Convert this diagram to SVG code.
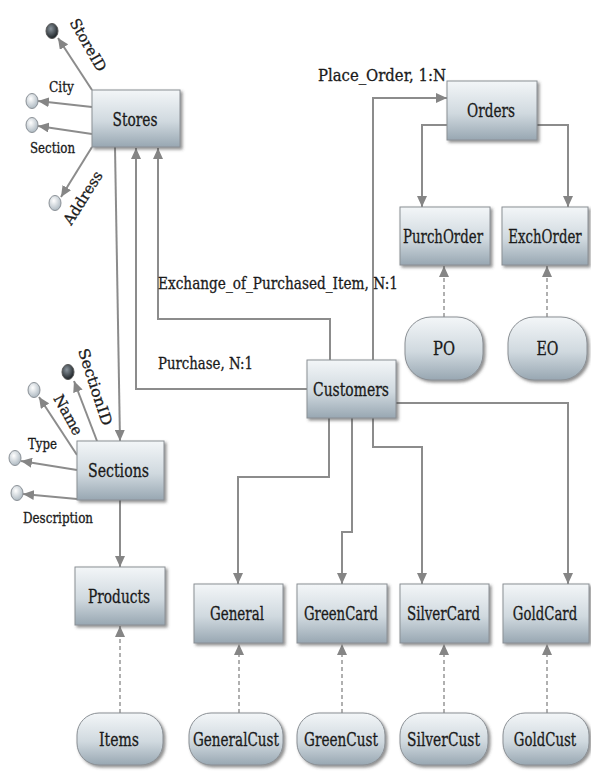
<svg xmlns="http://www.w3.org/2000/svg" width="591" height="774" viewBox="0 0 591 774">
<style>
.box{fill:url(#gBox);stroke:#8a8f94;stroke-width:1;filter:url(#sh)}
text{font-family:"DejaVu Serif","Liberation Serif",serif;fill:#1a1a1a;stroke:#1a1a1a;stroke-width:0.3}
.lbl{font-size:18px;text-anchor:middle}
.txt{font-size:16px}
.att{font-size:14px}
.ratt{font-size:15px;text-anchor:middle}
.c{fill:none;stroke:#8c8c8c;stroke-width:2;marker-end:url(#ah)}
.d{fill:none;stroke:#b0b0b0;stroke-width:2;stroke-dasharray:4 3;marker-end:url(#ah)}
.a{fill:none;stroke:#8c8c8c;stroke-width:2;marker-end:url(#ah)}
.lc{fill:url(#gLight);stroke:#8a9096;stroke-width:1}
.dc{fill:url(#gDark);stroke:#555;stroke-width:1}
</style>
<defs>
<linearGradient id="gBox" x1="0" y1="0" x2="0" y2="1">
<stop offset="0" stop-color="#f3f6f8"/>
<stop offset="0.55" stop-color="#d0d9df"/>
<stop offset="1" stop-color="#98a7b2"/>
</linearGradient>
<radialGradient id="gLight" cx="0.4" cy="0.35" r="0.7">
<stop offset="0" stop-color="#ffffff"/>
<stop offset="1" stop-color="#a9b5be"/>
</radialGradient>
<radialGradient id="gDark" cx="0.4" cy="0.35" r="0.7">
<stop offset="0" stop-color="#8a949c"/>
<stop offset="1" stop-color="#151a1e"/>
</radialGradient>
<filter id="sh" x="-10%" y="-10%" width="130%" height="130%">
<feDropShadow dx="2" dy="2" stdDeviation="1.5" flood-color="#444" flood-opacity="0.6"/>
</filter>
<marker id="ah" markerUnits="userSpaceOnUse" markerWidth="11" markerHeight="10" refX="11" refY="5" orient="auto">
<path d="M0,0 L11,5 L0,10 z" fill="#858585"/>
</marker>
</defs>

<g id="connectors">
<path class="c" d="M307,389 H136 V148"/>
<path class="c" d="M330,360 V319 H158 V148"/>
<path class="c" d="M115,147 L120,441"/>
<path class="c" d="M373,360 V98 H447"/>
<path class="c" d="M447,125 H422 V207"/>
<path class="c" d="M537,125 H568 V207"/>
<path class="c" d="M329,418 V477 H238 V584"/>
<path class="c" d="M352,418 V532 H342 V584"/>
<path class="c" d="M373,418 V447 H422 V584"/>
<path class="c" d="M396,403 H568 V584"/>
<path class="c" d="M120,500 V567"/>
<path class="d" d="M120,713 V626"/>
<path class="d" d="M239,713 V644"/>
<path class="d" d="M342,713 V644"/>
<path class="d" d="M444,713 V644"/>
<path class="d" d="M547,713 V644"/>
<path class="d" d="M444,317 V266"/>
<path class="d" d="M547,317 V266"/>
<path class="a" d="M92,90 L58,38"/>
<path class="a" d="M92,107 L38,101"/>
<path class="a" d="M92,134 L38,126"/>
<path class="a" d="M92,147 L61,197"/>
<path class="a" d="M97,441 L74,381"/>
<path class="a" d="M77,455 L39,397"/>
<path class="a" d="M77,470 L21,461"/>
<path class="a" d="M77,499 L23,494"/>
<text class="txt" x="318" y="81" textLength="128" lengthAdjust="spacingAndGlyphs">Place_Order, 1:N</text>
<text class="txt" x="158" y="289" textLength="240" lengthAdjust="spacingAndGlyphs">Exchange_of_Purchased_Item, N:1</text>
<text class="txt" x="158" y="369" textLength="95" lengthAdjust="spacingAndGlyphs">Purchase, N:1</text>
</g>

<g id="attributes">
<ellipse class="dc" cx="52" cy="31" rx="6" ry="7.5"/>
<ellipse class="lc" cx="32" cy="101" rx="6" ry="7.5"/>
<ellipse class="lc" cx="32" cy="125" rx="6" ry="7.5"/>
<ellipse class="lc" cx="55" cy="203" rx="6" ry="7.5"/>
<ellipse class="dc" cx="68" cy="372" rx="6" ry="7.5"/>
<ellipse class="lc" cx="34" cy="390" rx="6" ry="7.5"/>
<ellipse class="lc" cx="15" cy="458" rx="6" ry="7.5"/>
<ellipse class="lc" cx="17" cy="493" rx="6" ry="7.5"/>
<text class="ratt" transform="translate(88,45) rotate(60.5)" x="0" y="5" textLength="58" lengthAdjust="spacingAndGlyphs">StoreID</text>
<text class="att" x="49" y="92" textLength="25" lengthAdjust="spacingAndGlyphs">City</text>
<text class="att" x="30" y="153" textLength="45" lengthAdjust="spacingAndGlyphs">Section</text>
<text class="ratt" transform="translate(83,198) rotate(-58)" x="0" y="5" textLength="60" lengthAdjust="spacingAndGlyphs">Address</text>
<text class="ratt" transform="translate(95,387) rotate(72)" x="0" y="5" textLength="80" lengthAdjust="spacingAndGlyphs">SectionID</text>
<text class="ratt" transform="translate(68,415) rotate(61)" x="0" y="5" textLength="44" lengthAdjust="spacingAndGlyphs">Name</text>
<text class="att" x="28" y="449" textLength="29" lengthAdjust="spacingAndGlyphs">Type</text>
<text class="att" x="23" y="523" textLength="70" lengthAdjust="spacingAndGlyphs">Description</text>
</g>

<g id="Stores"><rect class="box" x="92" y="90" width="88" height="57"/><text class="lbl" x="135" y="126" textLength="45" lengthAdjust="spacingAndGlyphs">Stores</text></g>
<g id="Orders"><rect class="box" x="447" y="81" width="90" height="59"/><text class="lbl" x="491" y="117" textLength="48" lengthAdjust="spacingAndGlyphs">Orders</text></g>
<g id="PurchOrder"><rect class="box" x="400" y="207" width="90" height="58"/><text class="lbl" x="443" y="243" textLength="80" lengthAdjust="spacingAndGlyphs">PurchOrder</text></g>
<g id="ExchOrder"><rect class="box" x="502" y="207" width="86" height="58"/><text class="lbl" transform="translate(545,243) scale(0.74,1)" x="0" y="0">ExchOrder</text></g>
<g id="PO"><rect class="box" x="405" y="317" width="78" height="63" rx="26"/><text class="lbl" x="444" y="355" textLength="22" lengthAdjust="spacingAndGlyphs">PO</text></g>
<g id="EO"><rect class="box" x="508" y="317" width="79" height="63" rx="26"/><text class="lbl" x="547.5" y="355" textLength="22" lengthAdjust="spacingAndGlyphs">EO</text></g>
<g id="Customers"><rect class="box" x="307" y="360" width="89" height="58"/><text class="lbl" x="351" y="396" textLength="76" lengthAdjust="spacingAndGlyphs">Customers</text></g>
<g id="Sections"><rect class="box" x="77" y="441" width="87" height="59"/><text class="lbl" x="118.5" y="477" textLength="61" lengthAdjust="spacingAndGlyphs">Sections</text></g>
<g id="Products"><rect class="box" x="75" y="567" width="90" height="58"/><text class="lbl" x="119" y="603" textLength="62" lengthAdjust="spacingAndGlyphs">Products</text></g>
<g id="General"><rect class="box" x="194" y="584" width="89" height="59"/><text class="lbl" x="237" y="620" textLength="54" lengthAdjust="spacingAndGlyphs">General</text></g>
<g id="GreenCard"><rect class="box" x="297" y="584" width="90" height="59"/><text class="lbl" x="341" y="620" textLength="74" lengthAdjust="spacingAndGlyphs">GreenCard</text></g>
<g id="SilverCard"><rect class="box" x="400" y="584" width="89" height="59"/><text class="lbl" x="443.5" y="620" textLength="73" lengthAdjust="spacingAndGlyphs">SilverCard</text></g>
<g id="GoldCard"><rect class="box" x="503" y="584" width="86" height="59"/><text class="lbl" transform="translate(545,620) scale(0.74,1)" x="0" y="0">GoldCard</text></g>
<g id="Items"><rect class="box" x="77" y="713" width="86" height="52" rx="22"/><text class="lbl" x="119" y="746" textLength="40" lengthAdjust="spacingAndGlyphs">Items</text></g>
<g id="GeneralCust"><rect class="box" x="189" y="713" width="94" height="52" rx="22"/><text class="lbl" x="236" y="746" textLength="86" lengthAdjust="spacingAndGlyphs">GeneralCust</text></g>
<g id="GreenCust"><rect class="box" x="297" y="713" width="88" height="52" rx="22"/><text class="lbl" x="341" y="746" textLength="74" lengthAdjust="spacingAndGlyphs">GreenCust</text></g>
<g id="SilverCust"><rect class="box" x="400" y="713" width="88" height="52" rx="22"/><text class="lbl" x="443.5" y="746" textLength="73" lengthAdjust="spacingAndGlyphs">SilverCust</text></g>
<g id="GoldCust"><rect class="box" x="503" y="713" width="86" height="52" rx="22"/><text class="lbl" transform="translate(545,746) scale(0.74,1)" x="0" y="0">GoldCust</text></g>
</svg>
